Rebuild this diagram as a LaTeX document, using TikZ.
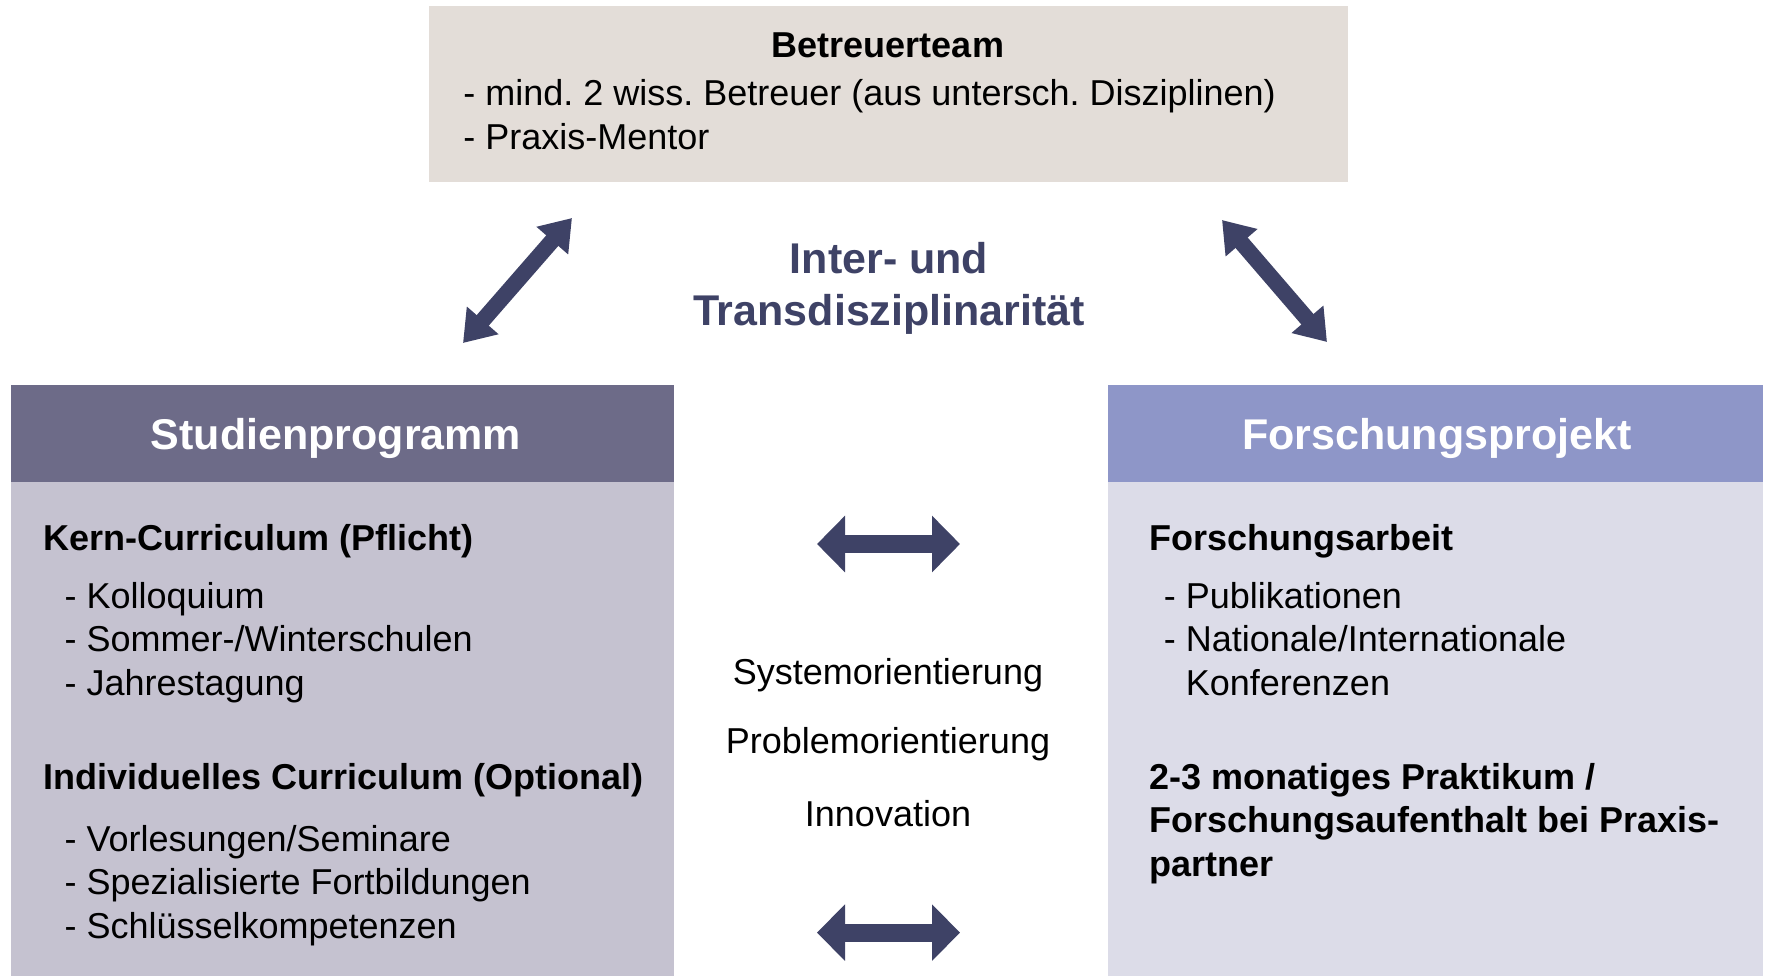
\documentclass[tikz,border=0pt]{standalone}
\usepackage{fontspec}
\setmainfont{Liberation Sans}
\usetikzlibrary{positioning,arrows.meta,fit,calc}
\usepackage{xcolor}

\definecolor{teambg}{HTML}{E3DDD8}
\definecolor{studhead}{HTML}{6D6B88}
\definecolor{studbody}{HTML}{C5C2D0}
\definecolor{forschhead}{HTML}{8E96C8}
\definecolor{forschbody}{HTML}{DCDCE8}
\definecolor{arrowblue}{HTML}{3E4266}

\frenchspacing

\begin{document}
\begin{tikzpicture}[x=0.5pt, y=-0.5pt,
  txt/.style={font=\fontsize{18}{22}\selectfont, inner sep=0pt, anchor=base west},
  bold/.style={txt, font=\fontsize{18}{22}\selectfont\bfseries},
  panelhead/.style={inner sep=0pt, anchor=base, text=white, font=\fontsize{21.5}{26}\selectfont\bfseries},
  box/.style={inner sep=0pt, outer sep=0pt},
  bigarrow/.style={draw=arrowblue, line width=9pt, {Triangle[length=14pt,width=27.5pt]}-{Triangle[length=14pt,width=27.5pt]}},
  diagarrow/.style={draw=arrowblue, line width=8pt, {Triangle[length=15pt,width=20pt]}-{Triangle[length=15pt,width=20pt]}}]

\useasboundingbox (0,0) rectangle (1766,976);

% Boxes
\node[box, fill=teambg, fit={(429,6) (1348,182)}] (team) {};
\node[box, fill=studhead, fit={(11,385) (674,482)}] (studhead) {};
\node[box, fill=studbody, fit={(11,482) (674,976)}] (studbody) {};
\node[box, fill=forschhead, fit={(1108,385) (1763,482)}] (forschhead) {};
\node[box, fill=forschbody, fit={(1108,482) (1763,976)}] (forschbody) {};

% Betreuerteam
\node[bold, anchor=base] (teamtitle) at (888,57.4) {Betreuerteam};
\foreach \t [count=\i from 0] in {- mind. 2 wiss. Betreuer (aus untersch. Disziplinen), - Praxis-Mentor}
  \node[txt] (team\i) at (463, 105.9+43.9*\i) {\t};

% Inter- und Transdisziplinaritaet
\node[bold, anchor=base, text=arrowblue, font=\fontsize{21.5}{26}\selectfont\bfseries] (inter) at (889,273.7) {Inter- und};
\node[bold, anchor=base, text=arrowblue, font=\fontsize{21.5}{26}\selectfont\bfseries] (trans) at (889,325.5) {Transdisziplinarität};

% Diagonal arrows
\coordinate (dl1) at (572,218);
\coordinate (dl2) at (463,343);
\coordinate (dr1) at (1222,220);
\coordinate (dr2) at (1327,342);
\draw[diagarrow] (dl1) -- (dl2);
\draw[diagarrow] (dr1) -- (dr2);

% Panel titles
\node[panelhead] (studtitle) at (336,449) {Studienprogramm};
\node[panelhead] (forschtitle) at (1437,449) {Forschungsprojekt};

% Studienprogramm
\node[bold] (kern) at (42.8,550.8) {Kern-Curriculum (Pflicht)};
\foreach \t [count=\i from 0] in {Kolloquium, Sommer-/Winterschulen, Jahrestagung}
  \node[txt] (kern\i) at (64.2, 608.2+43.4*\i) {- \t};
\node[bold] (indiv) at (42.8,789.5) {Individuelles Curriculum (Optional)};
\foreach \t [count=\i from 0] in {Vorlesungen/Seminare, Spezialisierte Fortbildungen, Schlüsselkompetenzen}
  \node[txt] (indiv\i) at (64.2, 851.5+43.4*\i) {- \t};

% Forschungsprojekt
\node[bold] (arbeit) at (1148.8,550.8) {Forschungsarbeit};
\foreach \t [count=\i from 0] in {- Publikationen, - Nationale/Internationale, \hphantom{- }Konferenzen}
  \node[txt] (arbeit\i) at (1163.5, 608.2+43.4*\i) {\t};
\foreach \t [count=\i from 0] in {2-3 monatiges Praktikum /, Forschungsaufenthalt bei Praxis-, partner}
  \node[bold] (prakt\i) at (1148.8, 789.5+43.4*\i) {\t};

% Middle
\foreach \t/\y in {Systemorientierung/684.8, Problemorientierung/753.5, Innovation/826.7}
  \node[txt, anchor=base] (mid\t) at (888,\y) {\t};

% Horizontal arrows
\coordinate (ha1) at (817,544);
\coordinate (ha2) at (960,544);
\coordinate (hb1) at (817,932.6);
\coordinate (hb2) at (960,932.6);
\draw[bigarrow] (ha1) -- (ha2);
\draw[bigarrow] (hb1) -- (hb2);

\end{tikzpicture}
\end{document}
